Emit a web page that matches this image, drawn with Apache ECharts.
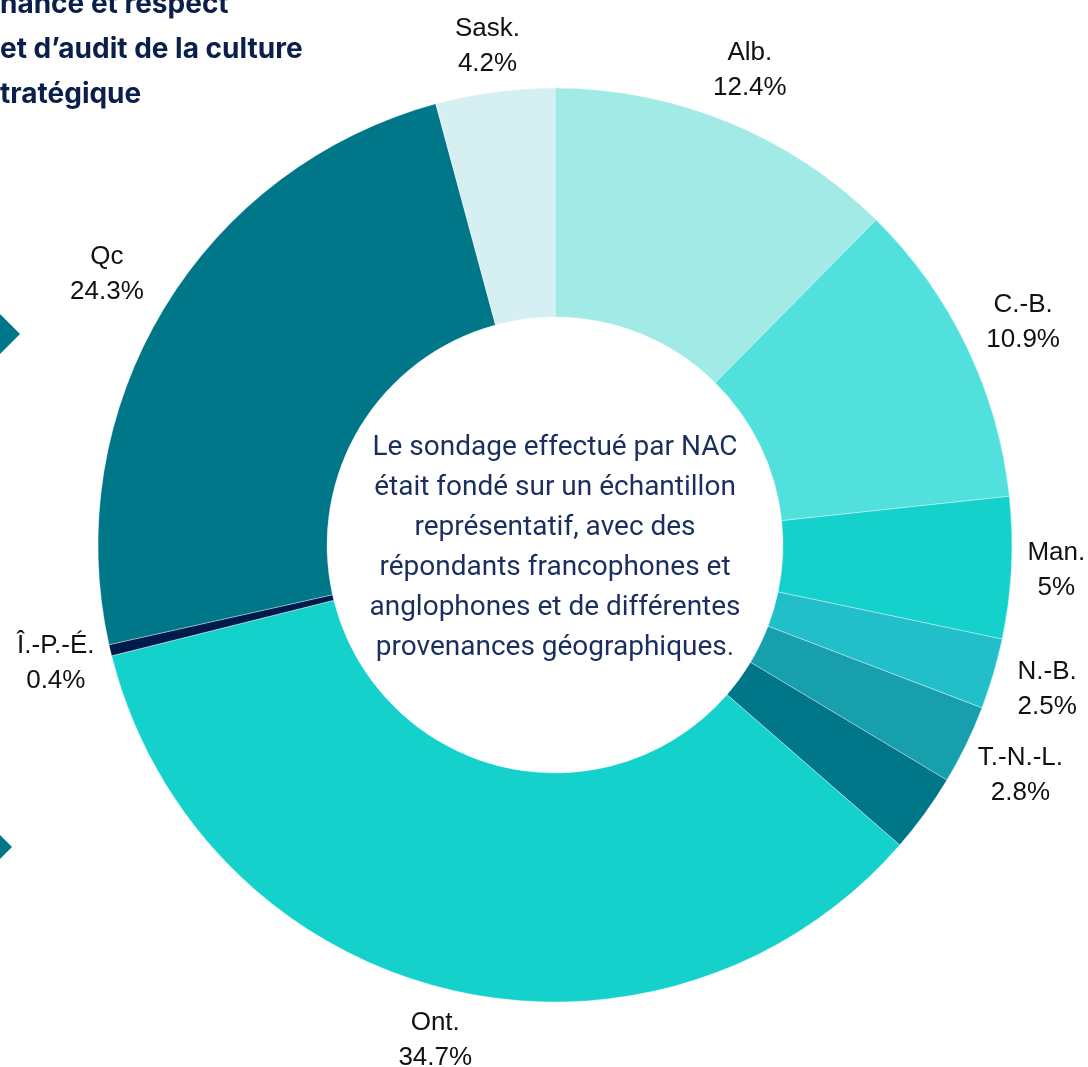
<!DOCTYPE html>
<html>
<head>
<meta charset="utf-8">
<script src="https://cdn.jsdelivr.net/npm/echarts@6/dist/echarts.min.js"></script>
<style>
  html, body { margin: 0; padding: 0; background: #fff; }
  #chart { width: 1088px; height: 1067px; }
</style>
</head>
<body>
<div id="chart"></div>
<script>
// provinces, clockwise from 12 o'clock
const provinces = ['Alb.', 'C.-B.', 'Man.', 'N.-B.', 'T.-N.-L.', 'N.-É.', 'Ont.', 'Î.-P.-É.', 'Qc', 'Sask.'];
const shares = [12.4, 10.9, 5, 2.5, 2.8, 2.8, 34.7, 0.4, 24.3, 4.2];
const sliceColors = ['#a2eae6', '#52e0dd', '#14d1cc', '#22bfcb', '#179fae', '#007689', '#14d1cc', '#001b4b', '#007689', '#d6eff3'];
// N.-É. label is hidden in the original (overlaps T.-N.-L.)
const showLabel = [true, true, true, true, true, false, true, true, true, true];

const centerText = [
  'Le sondage effectué par NAC',
  'était fondé sur un échantillon',
  'représentatif, avec des',
  'répondants francophones et',
  'anglophones et de différentes',
  'provenances géographiques.'
];
const titleLines = ['nance et respect', 'et d’audit de la culture', 'tratégique'];

const chart = echarts.init(document.getElementById('chart'));

const ringData = provinces.map((p, i) => ({
  name: p,
  value: shares[i],
  itemStyle: { color: sliceColors[i] }
}));

// small nudges so labels sit like in the original
const labelPad = {
  'Man.': [0, 22, 0, 0],
  'T.-N.-L.': [0, 0, 0, 8],
  'C.-B.': [0, 0, 0, 12],
  'Qc': [0, 18, 0, 0]
};
// extra empty line above (top) or below (bottom) to shift a label vertically
const gapTop = { 'Sask.': 20, 'T.-N.-L.': 12 };
const gapBottom = { 'Ont.': 6, 'Qc': 10 };

const labelData = provinces.map((p, i) => ({
  name: p,
  value: shares[i],
  label: { show: showLabel[i], padding: labelPad[p] || 0 }
}));

const cx = 555, cy = 545;

chart.setOption({
  backgroundColor: '#fff',
  animation: false,
  graphic: [
    // title lines, cut off at the left edge
    ...titleLines.map((t, i) => ({
      type: 'text',
      x: 0,
      y: [5, 50, 95][i],
      style: {
        text: t,
        font: 'bold 28px Inter, "Noto Sans", sans-serif',
        fill: '#0b1f4b',
        verticalAlign: 'middle'
      }
    })),
    // diamonds at left edge
    {
      type: 'polygon',
      shape: { points: [[-1, 313], [20, 334], [-1, 355], [-22, 334]] },
      style: { fill: '#007689' }
    },
    {
      type: 'polygon',
      shape: { points: [[-9, 826], [12, 847], [-9, 868], [-30, 847]] },
      style: { fill: '#007689' }
    },
    {
      type: 'text',
      x: cx,
      y: cy + 3,
      style: {
        text: centerText.join('\n'),
        font: '28px Roboto, "Noto Sans", sans-serif',
        lineHeight: 40,
        fill: '#1b2f5e',
        align: 'center',
        verticalAlign: 'middle'
      },
      z: 100
    }
  ],
  series: [
    {
      type: 'pie',
      center: [cx, cy],
      radius: [228, 457],
      startAngle: 90,
      clockwise: true,
      silent: true,
      label: { show: false },
      labelLine: { show: false },
      itemStyle: { borderColor: 'rgba(255,255,255,0.45)', borderWidth: 0.8 },
      data: ringData
    },
    {
      // transparent ring only used to place centred labels outside the donut
      type: 'pie',
      center: [cx, cy],
      radius: [480, 540],
      startAngle: 90,
      clockwise: true,
      silent: true,
      itemStyle: { color: 'rgba(0,0,0,0)' },
      labelLine: { show: false },
      label: {
        show: true,
        position: 'inside',
        rotate: 0,
        formatter: p => {
          let s = p.name + '\n' + p.value + '%';
          if (gapTop[p.name]) s = '{t' + gapTop[p.name] + '| }\n' + s;
          if (gapBottom[p.name]) s = s + '\n{t' + gapBottom[p.name] + '| }';
          return s;
        },
        fontFamily: '"Liberation Sans", Arial, sans-serif',
        fontSize: 26,
        lineHeight: 35,
        color: '#111',
        align: 'center',
        rich: {
          t6: { lineHeight: 6, fontSize: 4 },
          t10: { lineHeight: 10, fontSize: 4 },
          t12: { lineHeight: 12, fontSize: 4 },
          t20: { lineHeight: 20, fontSize: 4 }
        }
      },
      data: labelData
    }
  ]
});
</script>
</body>
</html>
